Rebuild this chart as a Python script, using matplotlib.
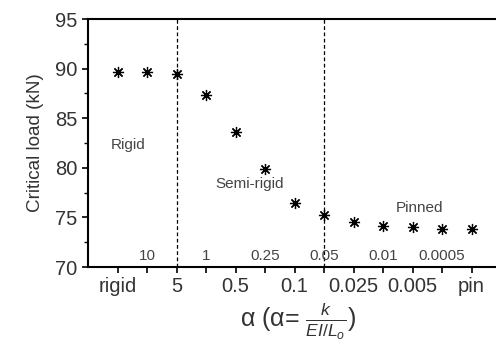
import matplotlib.pyplot as plt
import numpy as np

plt.rcParams['font.family'] = ['Liberation Sans', 'DejaVu Sans']
plt.rcParams['mathtext.fontset'] = 'custom'
plt.rcParams['mathtext.it'] = 'Liberation Sans:italic'
plt.rcParams['mathtext.rm'] = 'Liberation Sans'

# data
pos = np.arange(1, 14)
load = [89.7, 89.7, 89.5, 87.3, 83.6, 79.9, 76.5, 75.2, 74.5, 74.1, 74.0, 73.8, 73.8]
bottom_labels = ['rigid', '', '5', '', '0.5', '', '0.1', '', '0.025', '', '0.005', '', 'pin']
inner_pos = [2, 4, 6, 8, 10, 12]
inner_labels = ['10', '1', '0.25', '0.05', '0.01', '0.0005']
divider_pos = [3, 8]

txt = '#333333'
lab = '#444444'
fig = plt.figure(figsize=(4.96, 3.47), dpi=100)
ax = fig.add_axes([88/496, 1-267/347, 420/496, 248/347])

ax.plot(pos, load, ls='none', marker=(8, 2, 0), ms=8, mew=0.9, color='black')
for d in divider_pos:
    ax.axvline(d, color='black', ls=(0, (3, 2)), lw=0.9)

for p, s in zip(inner_pos, inner_labels):
    ax.text(p, 71.1, s, ha='center', va='center', fontsize=11, color=lab)

ax.text(1.36, 82.3, 'Rigid', ha='center', va='center', fontsize=11, color=lab)
ax.text(5.49, 78.4, 'Semi-rigid', ha='center', va='center', fontsize=11, color=lab)
ax.text(11.25, 75.95, 'Pinned', ha='center', va='center', fontsize=11, color=lab)

ax.set_xlim(0, 420/29.5)
ax.set_ylim(70, 95)
ax.set_xticks(pos)
ax.set_xticklabels(bottom_labels)
ax.set_yticks([70, 75, 80, 85, 90, 95])
ax.set_yticks(np.arange(72.5, 95, 5), minor=True)
ax.tick_params(axis='both', direction='out', labelsize=14.5, labelcolor=txt, width=1.2, length=4)
ax.tick_params(axis='y', which='minor', direction='out', width=1.0, length=3)
ax.spines['right'].set_visible(False)
for s in ['left', 'bottom', 'top']:
    ax.spines[s].set_linewidth(1.5)

ax.set_ylabel('Critical load (kN)', fontsize=13.6, color=txt, labelpad=8)
ax.set_xlabel(r'α (α= $\frac{k}{EI/L_o}$)', fontsize=18, color=txt, labelpad=3)

fig.savefig('out.png', dpi=100)
